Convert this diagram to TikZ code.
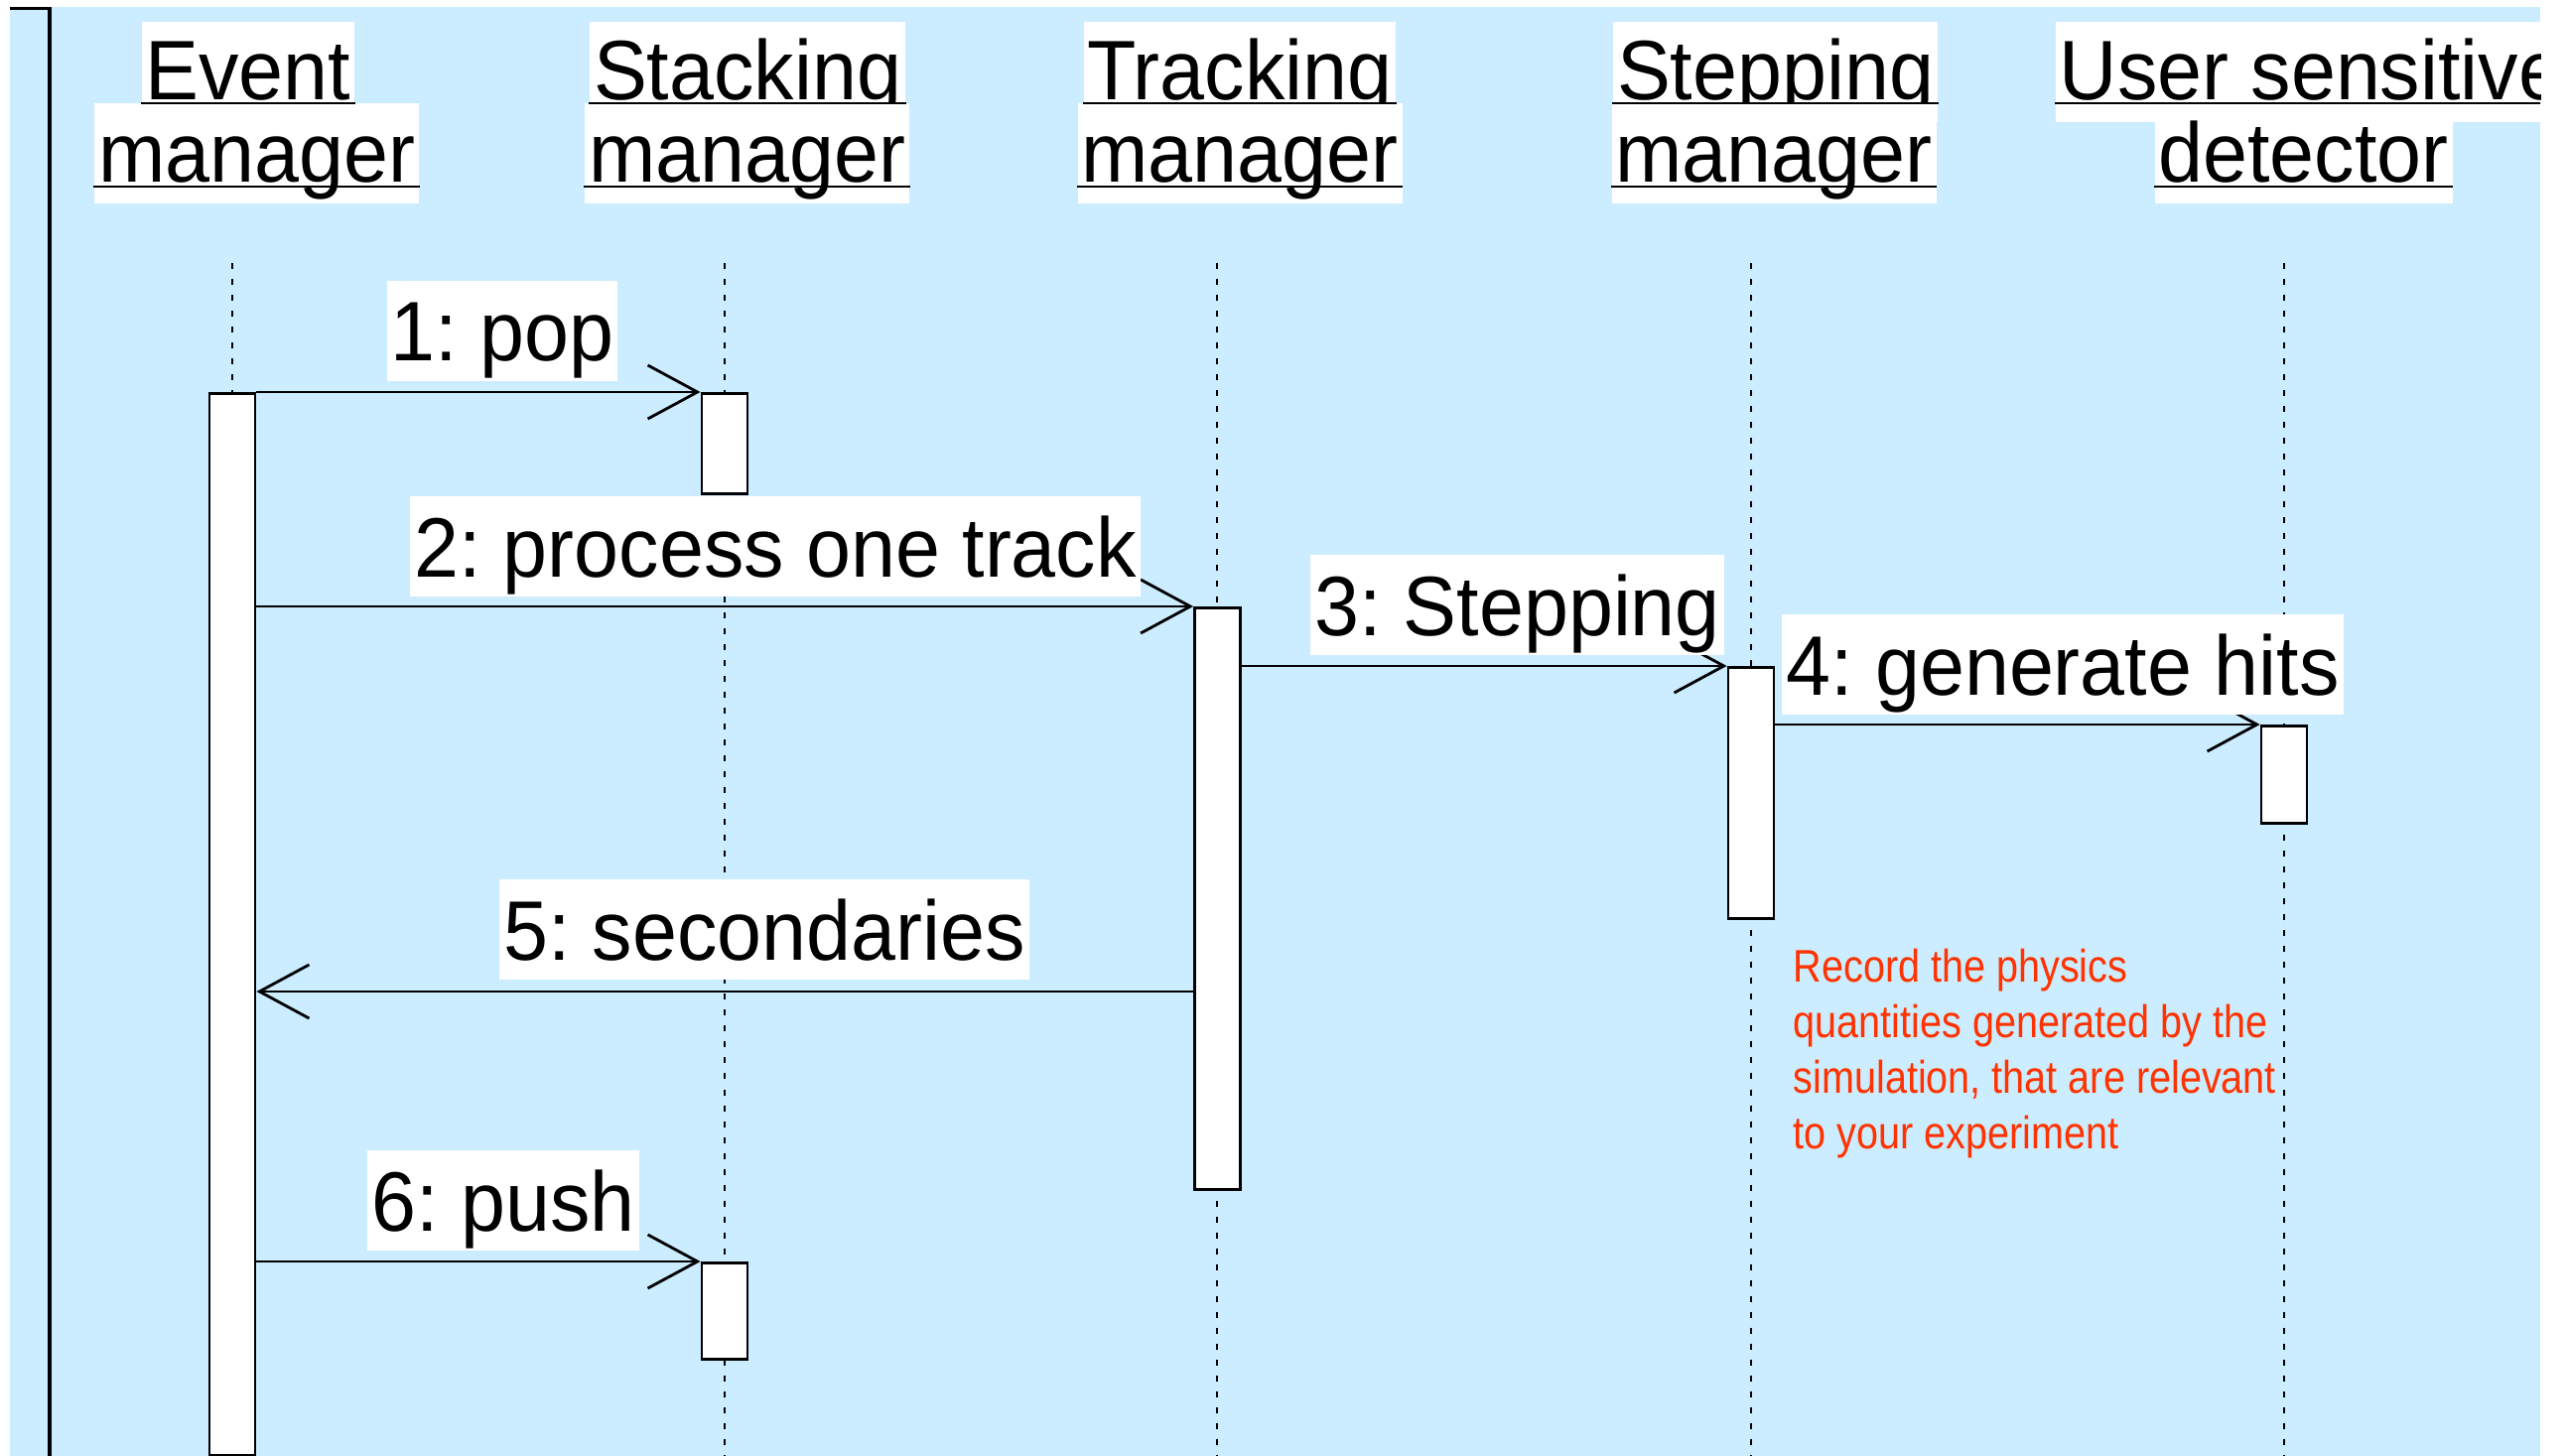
\documentclass[tikz,border=0pt]{standalone}
\usepackage{fontspec}
\setmainfont{Liberation Sans}
\newfontfamily\bigf[FakeStretch=0.95]{Liberation Sans}
\newfontfamily\redf[FakeStretch=0.86]{Liberation Sans}
\usetikzlibrary{arrows.meta}
\definecolor{bgblue}{RGB}{204,236,255}
\definecolor{notered}{RGB}{255,51,0}
\frenchspacing
\tikzset{
  bigtext/.style={font=\bigf\fontsize{24.19pt}{29pt}\selectfont},
  lbl/.style={bigtext, fill=white, inner xsep=0.04cm, inner ysep=0pt, text height=0.81cm, text depth=0.20cm, anchor=base},
  hdA/.style={lbl, text height=0.79cm, text depth=0.22cm},
  hdB/.style={lbl, text height=0.80cm, text depth=0.21cm},
  act/.style={draw=black, fill=white, line width=0.8pt, minimum width=0.46cm, inner sep=0pt, anchor=north},
  msg/.style={line width=0.8pt, -{Straight Barb[length=0.5cm, width=0.54cm]}},
  lifeline/.style={line width=0.8pt, dash pattern=on 0.06cm off 0.10cm},
  uline/.style={line width=0.75pt},
  note/.style={font=\redf\fontsize{13.09pt}{16pt}\selectfont, text=notered, inner sep=0pt, anchor=base west},
}
\begin{document}
\begin{tikzpicture}[x=0.01cm, y=-0.01cm]
\useasboundingbox (0,0) rectangle (2588,1467);
\begin{scope}
\clip (10,7) rectangle (2559,1467);
\fill[bgblue] (10,7) rectangle (2559,1467);
% frame
\draw[line width=1pt] (10,8.5) -- (50,8.5) -- (50,1467);
% lifelines
\coordinate (le0) at (234,265);  \coordinate (le1) at (234,1467);
\coordinate (ls0) at (730,265);  \coordinate (ls1) at (730,1467);
\coordinate (lt0) at (1226,265); \coordinate (lt1) at (1226,1467);
\coordinate (lp0) at (1764,265); \coordinate (lp1) at (1764,1467);
\coordinate (lu0) at (2301,265); \coordinate (lu1) at (2301,1467);
\draw[lifeline] (le0) -- (le1);
\draw[lifeline] (ls0) -- (ls1);
\draw[lifeline] (lt0) -- (lt1);
\draw[lifeline] (lp0) -- (lp1);
\draw[lifeline] (lu0) -- (lu1);
% activations
\node[act, minimum height=10.69cm] (a1) at (234,395) {};
\node[act, minimum height=1.01cm] (s1) at (730,395) {};
\node[act, minimum height=5.86cm] (t1) at (1226.5,611) {};
\node[act, minimum height=2.53cm] (st1) at (1764,671) {};
\node[act, minimum height=0.98cm] (u1) at (2301,730) {};
\node[act, minimum height=0.97cm] (s2) at (730,1271) {};
% messages
\coordinate (y5) at (0,999);
\draw[msg] (a1.east |- s1.north west) -- (s1.north west);
\draw[msg] (t1.north west -| a1.east) -- (t1.north west);
\draw[msg] (st1.north west -| t1.east) -- (st1.north west);
\draw[msg] (u1.north west -| st1.east) -- (u1.north west);
\draw[msg] (t1.west |- y5) -- (a1.east |- y5);
\draw[msg] (s2.north west -| a1.east) -- (s2.north west);
% labels
\node[lbl] (m1) at (506,364) {1: pop};
\node[lbl] (m2) at (781,581) {2: process one track};
\node[lbl] (m3) at (1528.5,640) {3: Stepping};
\node[lbl] (m4) at (2078,700) {4: generate hits};
\node[lbl] (m5) at (770,967) {5: secondaries};
\node[lbl] (m6) at (507,1240) {6: push};
% headers, first lines
\node[hdA] (h1a) at (250,101) {Event~};
\node[hdA] (h2a) at (753,101) {Stacking~};
\node[hdA] (h3a) at (1249,101) {Tracking~};
\node[hdA] (h4a) at (1788.5,101) {Stepping~};
\node[hdA, anchor=base west] (h5a) at (2070,101) {User sensitive~};
% headers, second lines
\node[hdB] (h1b) at (258.5,184) {manager};
\node[hdB] (h2b) at (752.5,184) {manager};
\node[hdB] (h3b) at (1249,184) {manager};
\node[hdB] (h4b) at (1787,184) {manager};
\node[hdB] (h5b) at (2320.5,184) {detector};
% underlines
\foreach \n in {h1a,h2a,h3a,h4a,h5a}{
  \draw[uline] ([yshift=-0.03cm]\n.base west) -- ([yshift=-0.03cm]\n.base east);
}
\foreach \n in {h1b,h2b,h3b,h4b,h5b}{
  \draw[uline] ([yshift=-0.04cm]\n.base west) -- ([yshift=-0.04cm]\n.base east);
}
% note
\node[note] (n1) at (1806,989) {Record the physics};
\node[note] (n2) at (1806,1045) {quantities generated by the};
\node[note] (n3) at (1806,1101) {simulation, that are relevant};
\node[note] (n4) at (1806,1157) {to your experiment};
\end{scope}
\end{tikzpicture}
\end{document}
